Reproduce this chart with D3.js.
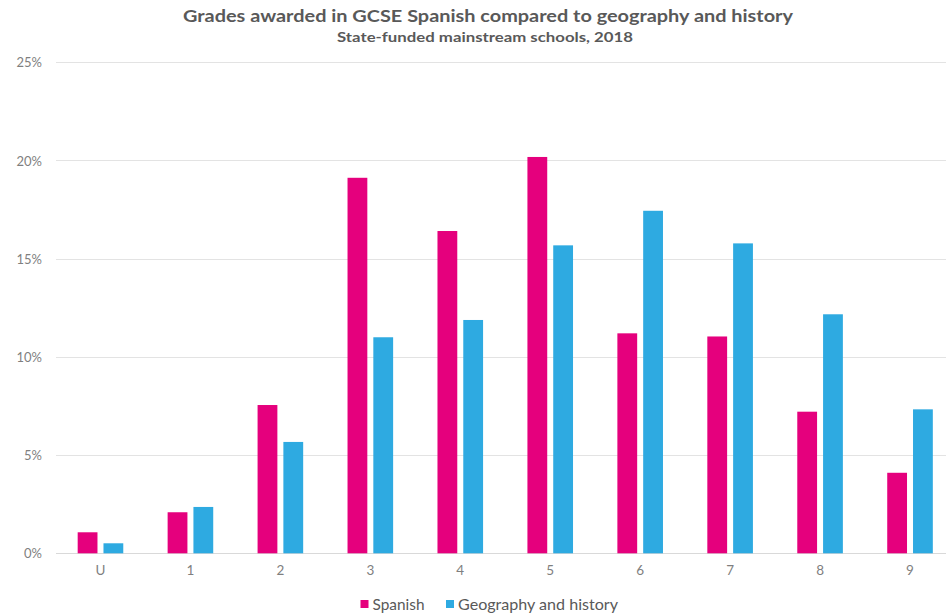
<!DOCTYPE html>
<html><head><meta charset="utf-8">
<script src="https://cdn.jsdelivr.net/npm/d3@7"></script>
<style>body{margin:0;background:#fff}svg{display:block}</style>
</head><body>
<script>
const categories = ["U","1","2","3","4","5","6","7","8","9"];
const spanish = [1.07, 2.09, 7.55, 19.12, 16.41, 20.18, 11.2, 11.04, 7.21, 4.10];
const geoHistory = [0.51, 2.36, 5.67, 11.0, 11.88, 15.68, 17.44, 15.78, 12.17, 7.33];
const seriesNames = ["Spanish","Geography and history"];
const colors = ["#E5007D","#2EAAE1"];
const yTicks = [0,5,10,15,20,25];

const W=948,H=613;
const svg=d3.select("body").append("svg").attr("width",W).attr("height",H);
const font="Lato, 'Open Sans', sans-serif";
const x=d3.scaleBand().domain(categories).range([55.5,955]).paddingInner(0).paddingOuter(0);
const y=d3.scaleLinear().domain([0,25]).range([553.3,62.3]);

// gridlines
svg.append("g").selectAll("line").data(yTicks).join("line")
  .attr("x1",56).attr("x2",946).attr("y1",d=>Math.round(y(d))+0.5).attr("y2",d=>Math.round(y(d))+0.5)
  .attr("stroke",d=>d===0?"#d9d9d9":"#e3e3e3").attr("stroke-width",1);

// y axis
const yAxis=d3.axisLeft(y).tickValues(yTicks).tickFormat(d=>d+"%").tickSize(0).tickPadding(0);
const gy=svg.append("g").attr("transform","translate(42,0)").call(yAxis);
gy.select(".domain").remove();
gy.selectAll("text").attr("fill","#7f7f7f").style("font-family",font).style("font-size","13px").attr("dy","0.35em");

// x axis
const xAxis=d3.axisBottom(x).tickSize(0).tickPadding(0);
const gx=svg.append("g").attr("transform","translate(0,565)").call(xAxis);
gx.select(".domain").remove();
gx.selectAll("text").attr("fill","#7f7f7f").style("font-family",font).style("font-size","13.5px");

// bars
const barW=19.8, gap=6;
const data=[spanish,geoHistory];
data.forEach((vals,si)=>{
  svg.append("g").selectAll("rect").data(vals).join("rect")
    .attr("x",(d,i)=>x(categories[i])+x.bandwidth()/2 + (si===0? -gap/2-barW : gap/2))
    .attr("width",barW)
    .attr("y",d=>y(d)).attr("height",d=>y(0)-y(d))
    .attr("fill",colors[si]);
});

// title
svg.append("text").attr("x",183).attr("y",22)
  .attr("fill","#595959").style("font-family",font).style("font-size","17px").style("font-weight","bold")
  .attr("textLength",610).attr("lengthAdjust","spacingAndGlyphs")
  .text("Grades awarded in GCSE Spanish compared to geography and history");
svg.append("text").attr("x",337).attr("y",42)
  .attr("fill","#595959").style("font-family",font).style("font-size","14px").style("font-weight","bold")
  .attr("textLength",296).attr("lengthAdjust","spacingAndGlyphs")
  .text("State-funded  mainstream schools, 2018");

// legend
const leg=svg.append("g");
const legX=[360.5,446];
const legLen=[52,160];
seriesNames.forEach((n,i)=>{
  leg.append("rect").attr("x",legX[i]).attr("y",600).attr("width",8).attr("height",8).attr("fill",colors[i]);
  leg.append("text").attr("x",legX[i]+12).attr("y",610).attr("fill","#595959")
    .style("font-family",font).style("font-size","16px")
    .attr("textLength",legLen[i]).attr("lengthAdjust","spacingAndGlyphs").text(n);
});
</script>
</body></html>
